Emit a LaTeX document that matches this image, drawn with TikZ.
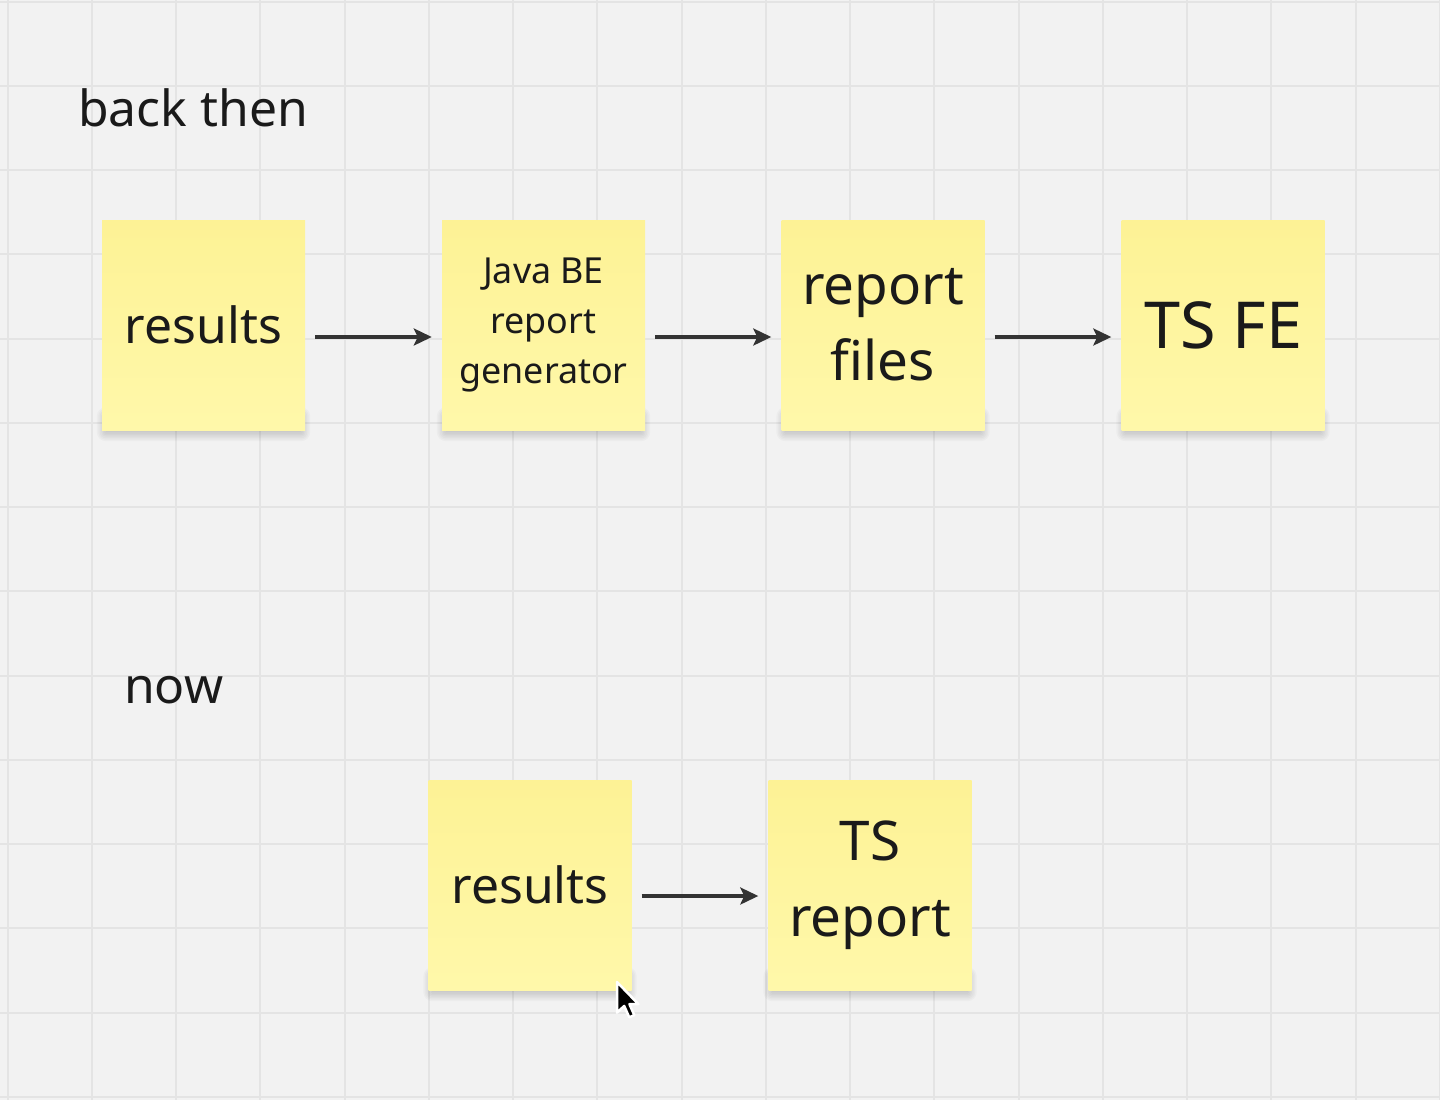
\documentclass[tikz,border=0pt]{standalone}
\usepackage{fontspec}
\setmainfont{Noto Sans}
\usetikzlibrary{arrows.meta}
\pgfdeclarelayer{shadowlayer}
\pgfsetlayers{shadowlayer,main}
\definecolor{bgc}{HTML}{F2F2F2}
\definecolor{gridc}{HTML}{E4E4E4}
\definecolor{notetop}{HTML}{FDF295}
\definecolor{notebot}{HTML}{FFF8AA}
\definecolor{txt}{HTML}{1A1A1A}
\definecolor{arrowc}{HTML}{333333}
\tikzset{
  sticky/.style={minimum width=203bp, minimum height=210bp, inner sep=0pt,
    align=center, text=txt, top color=notetop, bottom color=notebot, draw=none},
  flowarrow/.style={draw=arrowc, line width=3.2bp, arrows={-Stealth[length=18bp,width=17bp,inset=4bp]},
    shorten <=10bp, shorten >=10bp},
  textlabel/.style={anchor=base west, inner sep=0pt, text=txt}
}
\newcommand{\notesoftshadow}[1]{%
  \begin{pgfonlayer}{shadowlayer}
  \foreach \s in {0,1.5,3,4.5,6,7.5,9} {
    \fill[black, opacity=0.022, rounded corners=\s bp]
      ([xshift=-\s bp+4bp, yshift=-\s bp-2bp]#1.south west) rectangle
      ([xshift=\s bp-4bp, yshift=\s bp+14bp]#1.south east);
  }
  \end{pgfonlayer}}
\begin{document}
\begin{tikzpicture}[x=1bp,y=-1bp]
\useasboundingbox (0,0) rectangle (1440,1100);
\begin{pgfonlayer}{shadowlayer}
\fill[bgc] (0,0) rectangle (1440,1100);
\foreach \k in {0,...,17} {
  \draw[gridc, line width=2bp] (7.5+84.25*\k,0) -- (7.5+84.25*\k,1100);
}
\foreach \k in {0,...,13} {
  \draw[gridc, line width=2bp] (0,1.7+84.25*\k) -- (1440,1.7+84.25*\k);
}
\end{pgfonlayer}
\node[textlabel, font=\fontsize{50}{60}\selectfont] (lback) at (78,126) {back then};
\node[textlabel, font=\fontsize{50}{60}\selectfont] (lnow) at (124,703) {now};

\node[sticky, font=\fontsize{50}{60}\selectfont] (r1) at (203.5,325) {results};
\node[sticky, font=\fontsize{36}{50}\selectfont] (java) at (543.5,325) {Java BE\\report\\generator};
\node[sticky, font=\fontsize{55}{76}\selectfont] (files) at (883,325) {report\\files};
\node[sticky, font=\fontsize{65}{78}\selectfont] (fe) at (1223,325) {TS FE};

\node[sticky, font=\fontsize{50}{60}\selectfont] (r2) at (530,885) {results};
\node[sticky, font=\fontsize{55}{76}\selectfont] (tsr) at (870,885) {TS\\report};

\notesoftshadow{r1}
\notesoftshadow{java}
\notesoftshadow{files}
\notesoftshadow{fe}
\notesoftshadow{r2}
\notesoftshadow{tsr}

\draw[flowarrow] ([yshift=-12bp]r1.east) -- ([yshift=-12bp]java.west);
\draw[flowarrow] ([yshift=-12bp]java.east) -- ([yshift=-12bp]files.west);
\draw[flowarrow] ([yshift=-12bp]files.east) -- ([yshift=-12bp]fe.west);
\draw[flowarrow] ([yshift=-11bp]r2.east) -- ([yshift=-11bp]tsr.west);

% mouse cursor
\begin{scope}[shift={(617,982)}, scale=1.8]
\draw[white, fill=black, line width=2.5bp, line join=round]
  (0,0) -- (0,17) -- (4,13.3) -- (6.8,19.6) -- (9.6,18.4) -- (6.9,12.3) -- (11.9,12.3) -- cycle;
\end{scope}
\end{tikzpicture}
\end{document}
